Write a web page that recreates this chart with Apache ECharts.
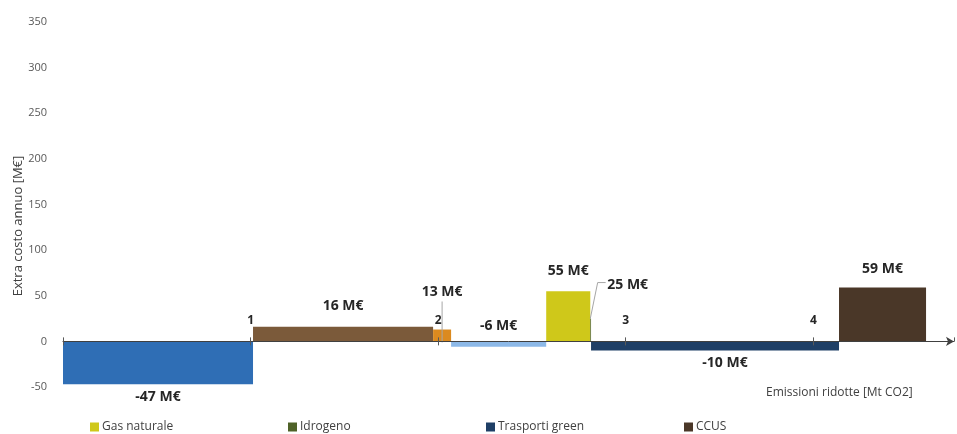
<!DOCTYPE html>
<html>
<head>
<meta charset="utf-8">
<script src="https://cdn.jsdelivr.net/npm/echarts@6/dist/echarts.min.js"></script>
<style>
html,body{margin:0;padding:0;background:#fff;}
#chart{width:957px;height:434px;}
</style>
</head>
<body>
<div id="chart"></div>
<script>
// ---- data ----
const measures = ['Misura A', 'Misura B', 'Misura C', 'Misura D', 'Gas naturale', 'Idrogeno', 'Trasporti green', 'CCUS'];
const reductions = [1.013, 0.96, 0.096, 0.507, 0.235, 0.004, 1.322, 0.464]; // Mt CO2 (bar widths)
const costs = [-47, 16, 13, -6, 55, 25, -10, 59]; // M€
const costLabels = ['-47 M€', '16 M€', '13 M€', '-6 M€', '55 M€', '25 M€', '-10 M€', '59 M€'];
const legendItems = ['Gas naturale', 'Idrogeno', 'Trasporti green', 'CCUS'];
const xTicks = [1, 2, 3, 4];

// ---- styles ----
const colors = ['#2F6EB5', '#7B5A3A', '#DB8A1F', '#8DB9E8', '#CFC81A', '#4F6228', '#1F3F66', '#4A3728'];
const labelStyle = [
  {dx: 0, dy: 13},
  {dx: 0, dy: -21},
  {dx: 0, dy: -37, leader: true},
  {dx: 0, dy: -15, fromAxis: true},
  {dx: 0, dy: -20},
  {dx: 37, dy: -34, leader25: true},
  {dx: 10, dy: 13},
  {dx: 0, dy: -19}
];

const starts = [];
let acc = 0;
for (let i = 0; i < reductions.length; i++) { starts.push(acc); acc += reductions[i]; }

const chart = echarts.init(document.getElementById('chart'));
const font = '"Open Sans", "DejaVu Sans", sans-serif';

const GRID_TOP = 22, GRID_BOTTOM = 47, Y_MIN = -50, Y_MAX = 350;
const plotH = 434 - GRID_TOP - GRID_BOTTOM;
const zeroOffset = -plotH * (0 - Y_MIN) / (Y_MAX - Y_MIN); // move x axis up to y=0

const series = measures.map((name, i) => ({
  name: name,
  type: 'custom',
  xAxisIndex: 0,
  yAxisIndex: 0,
  z: 1,
  itemStyle: {color: colors[i]},
  data: [[starts[i], starts[i] + reductions[i], costs[i], i]],
  encode: {x: [0, 1], y: 2},
  renderItem: function (params, api) {
    const s = api.value(0), e = api.value(1), v = api.value(2), idx = api.value(3);
    const p0 = api.coord([s, 0]);
    const p1 = api.coord([e, v]);
    const x = p0[0];
    const w = Math.max(p1[0] - p0[0], 0.6);
    const y = Math.min(p0[1], p1[1]);
    const h = Math.abs(p1[1] - p0[1]);
    const cx = x + w / 2;
    const ls = labelStyle[idx];
    const children = [{
      type: 'rect',
      shape: {x: x, y: y, width: w, height: h},
      style: {fill: colors[idx]}
    }];
    let ty = ls.fromAxis ? p0[1] + ls.dy : p1[1] + ls.dy;
    let tx = cx + ls.dx;
    if (ls.leader) {
      children.push({type: 'line', shape: {x1: cx, y1: ty + 9, x2: cx, y2: p0[1] + 1}, style: {stroke: '#A6A6A6', lineWidth: 1}});
    }
    if (ls.leader25) {
      children.push({type: 'polyline', shape: {points: [[tx - 22, ty - 2], [tx - 30, ty - 2], [x, p1[1]]]}, style: {stroke: '#A6A6A6', lineWidth: 1, fill: null}});
    }
    children.push({
      type: 'text',
      x: tx, y: ty,
      style: {
        text: costLabels[idx],
        fill: '#262626',
        font: 'bold 14px ' + font,
        textAlign: 'center',
        textVerticalAlign: 'middle'
      }
    });
    return {type: 'group', children: children};
  }
}));

const legends = legendItems.map((n, i) => ({
  data: [n],
  left: [90, 288, 486, 684][i],
  top: 421,
  itemWidth: 9,
  itemHeight: 9,
  itemGap: 4,
  icon: 'rect',
  padding: 0,
  textStyle: {fontFamily: font, fontSize: 12, color: '#404040', padding: [0, 0, 0, -2]}
}));

chart.setOption({
  animation: false,
  backgroundColor: '#fff',
  grid: {left: 63, right: 3, top: GRID_TOP, bottom: GRID_BOTTOM, containLabel: false},
  legend: legends,
  xAxis: [{
    type: 'value',
    min: 0, max: 4.75, interval: 1,
    position: 'bottom',
    offset: zeroOffset,
    z: 5,
    axisLine: {show: true, onZero: false, lineStyle: {color: '#404040', width: 1}, symbol: ['none', 'arrow'], symbolSize: [7, 8]},
    axisTick: {show: true, length: 4, lineStyle: {color: '#595959'}},
    axisLabel: {
      inside: true, margin: 15, showMaxLabel: false,
      fontFamily: font, fontSize: 12, fontWeight: 'bold', color: '#262626',
      formatter: v => (xTicks.indexOf(v) >= 0 ? String(v) : '')
    },
    splitLine: {show: false}
  }, {
    type: 'value',
    min: 0, max: 4.75, interval: 1,
    position: 'bottom',
    offset: zeroOffset,
    z: 5,
    axisLine: {show: false, onZero: false},
    axisTick: {show: true, inside: true, length: 4, lineStyle: {color: '#595959'}},
    axisLabel: {show: false},
    splitLine: {show: false}
  }],
  yAxis: {
    type: 'value',
    min: Y_MIN, max: Y_MAX, interval: 50,
    axisLine: {show: false},
    axisTick: {show: false},
    splitLine: {show: false},
    axisLabel: {fontFamily: font, fontSize: 11, color: '#595959', margin: 16}
  },
  graphic: [{
    type: 'text',
    x: 18, y: 226,
    rotation: Math.PI / 2,
    style: {text: 'Extra costo annuo [M€]', font: '13px ' + font, fill: '#404040', textAlign: 'center', textVerticalAlign: 'middle'}
  }, {
    type: 'text',
    x: 766, y: 393,
    style: {text: 'Emissioni ridotte [Mt CO2]', font: '12px ' + font, fill: '#404040', textAlign: 'left', textVerticalAlign: 'middle'}
  }],
  series: series
});
</script>
</body>
</html>
